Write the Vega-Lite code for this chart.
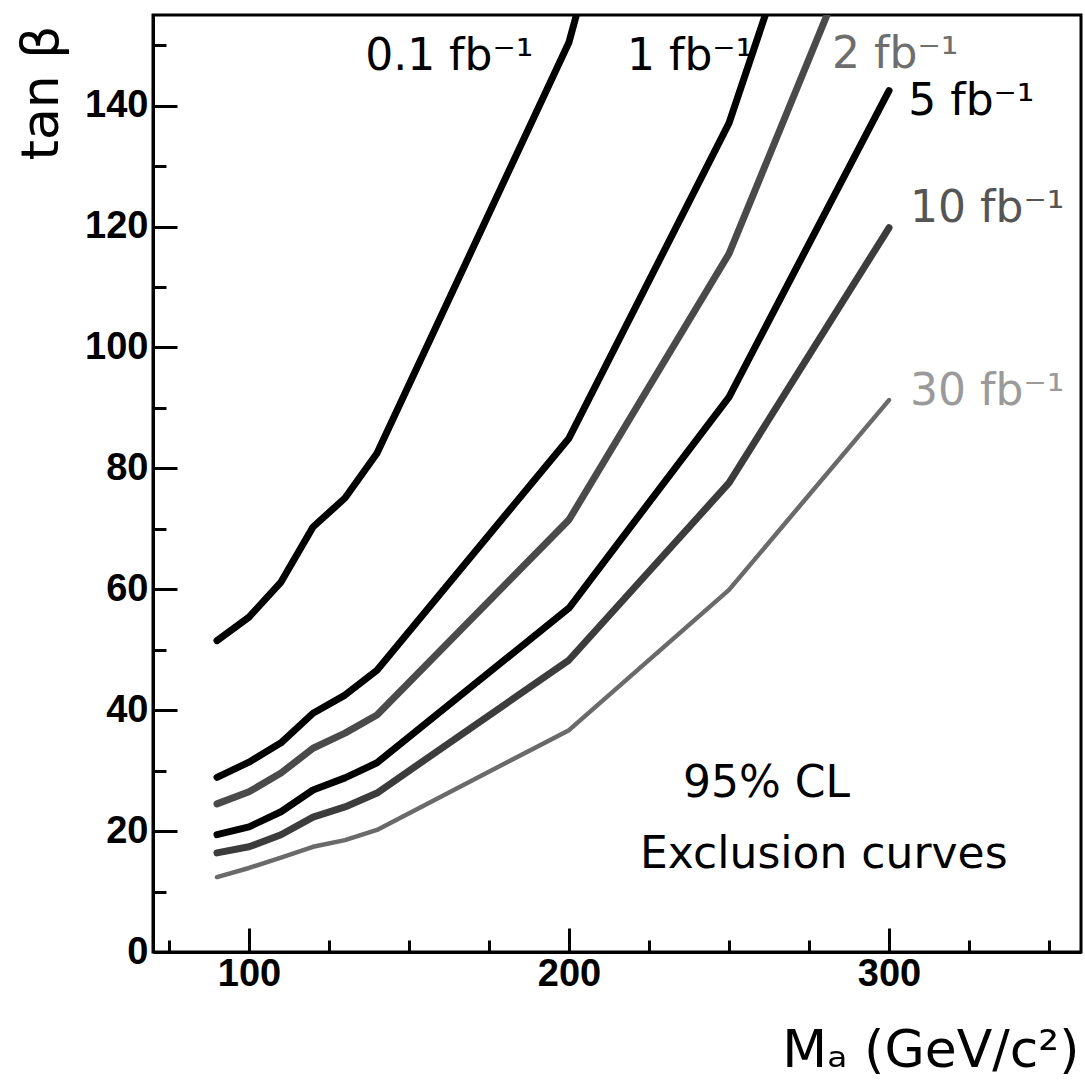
{
  "$schema": "https://vega.github.io/schema/vega-lite/v6.json",
  "autosize": {"type": "none"},
  "padding": {"left": 153, "top": 15, "right": 4, "bottom": 130},
  "width": 928,
  "height": 937,
  "background": "white",
  "config": {"view": {"stroke": "black", "strokeWidth": 3}, "font": "DejaVu Sans"},
  "datasets": {
    "curves": [
      {"series": "0.1 fb⁻¹", "M": 90, "tanb": 51.5},
      {"series": "0.1 fb⁻¹", "M": 100, "tanb": 55.4},
      {"series": "0.1 fb⁻¹", "M": 110, "tanb": 61.2},
      {"series": "0.1 fb⁻¹", "M": 120, "tanb": 70.3},
      {"series": "0.1 fb⁻¹", "M": 130, "tanb": 75.1},
      {"series": "0.1 fb⁻¹", "M": 140, "tanb": 82.5},
      {"series": "0.1 fb⁻¹", "M": 200, "tanb": 150.5},
      {"series": "0.1 fb⁻¹", "M": 250, "tanb": 248},
      {"series": "1 fb⁻¹", "M": 90, "tanb": 28.9},
      {"series": "1 fb⁻¹", "M": 100, "tanb": 31.4},
      {"series": "1 fb⁻¹", "M": 110, "tanb": 34.6},
      {"series": "1 fb⁻¹", "M": 120, "tanb": 39.5},
      {"series": "1 fb⁻¹", "M": 130, "tanb": 42.5},
      {"series": "1 fb⁻¹", "M": 140, "tanb": 46.6},
      {"series": "1 fb⁻¹", "M": 200, "tanb": 85},
      {"series": "1 fb⁻¹", "M": 250, "tanb": 137.1},
      {"series": "1 fb⁻¹", "M": 300, "tanb": 216},
      {"series": "2 fb⁻¹", "M": 90, "tanb": 24.5},
      {"series": "2 fb⁻¹", "M": 100, "tanb": 26.5},
      {"series": "2 fb⁻¹", "M": 110, "tanb": 29.6},
      {"series": "2 fb⁻¹", "M": 120, "tanb": 33.7},
      {"series": "2 fb⁻¹", "M": 130, "tanb": 36.2},
      {"series": "2 fb⁻¹", "M": 140, "tanb": 39.2},
      {"series": "2 fb⁻¹", "M": 200, "tanb": 71.5},
      {"series": "2 fb⁻¹", "M": 250, "tanb": 115.5},
      {"series": "2 fb⁻¹", "M": 300, "tanb": 180},
      {"series": "5 fb⁻¹", "M": 90, "tanb": 19.4},
      {"series": "5 fb⁻¹", "M": 100, "tanb": 20.7},
      {"series": "5 fb⁻¹", "M": 110, "tanb": 23.2},
      {"series": "5 fb⁻¹", "M": 120, "tanb": 26.8},
      {"series": "5 fb⁻¹", "M": 130, "tanb": 28.8},
      {"series": "5 fb⁻¹", "M": 140, "tanb": 31.3},
      {"series": "5 fb⁻¹", "M": 200, "tanb": 56.9},
      {"series": "5 fb⁻¹", "M": 250, "tanb": 91.8},
      {"series": "5 fb⁻¹", "M": 300, "tanb": 142.5},
      {"series": "10 fb⁻¹", "M": 90, "tanb": 16.4},
      {"series": "10 fb⁻¹", "M": 100, "tanb": 17.4},
      {"series": "10 fb⁻¹", "M": 110, "tanb": 19.4},
      {"series": "10 fb⁻¹", "M": 120, "tanb": 22.3},
      {"series": "10 fb⁻¹", "M": 130, "tanb": 24.0},
      {"series": "10 fb⁻¹", "M": 140, "tanb": 26.3},
      {"series": "10 fb⁻¹", "M": 200, "tanb": 48.3},
      {"series": "10 fb⁻¹", "M": 250, "tanb": 77.6},
      {"series": "10 fb⁻¹", "M": 300, "tanb": 119.8},
      {"series": "30 fb⁻¹", "M": 90, "tanb": 12.4},
      {"series": "30 fb⁻¹", "M": 100, "tanb": 13.9},
      {"series": "30 fb⁻¹", "M": 110, "tanb": 15.6},
      {"series": "30 fb⁻¹", "M": 120, "tanb": 17.4},
      {"series": "30 fb⁻¹", "M": 130, "tanb": 18.5},
      {"series": "30 fb⁻¹", "M": 140, "tanb": 20.2},
      {"series": "30 fb⁻¹", "M": 200, "tanb": 36.7},
      {"series": "30 fb⁻¹", "M": 250, "tanb": 59.9},
      {"series": "30 fb⁻¹", "M": 300, "tanb": 91.3}
    ],
    "labels": [
      {"series": "0.1 fb⁻¹", "M": 136.3, "tanb": 145.9},
      {"series": "1 fb⁻¹", "M": 218.1, "tanb": 145.9},
      {"series": "2 fb⁻¹", "M": 282.2, "tanb": 146.2},
      {"series": "5 fb⁻¹", "M": 306, "tanb": 138.5},
      {"series": "10 fb⁻¹", "M": 306.6, "tanb": 120.8},
      {"series": "30 fb⁻¹", "M": 306.6, "tanb": 90.5}
    ],
    "notes": [
      {"text": "95% CL", "M": 235.6, "tanb": 25.6},
      {"text": "Exclusion curves", "M": 222.2, "tanb": 13.9}
    ]
  },
  "layer": [
    {
      "data": {"name": "curves"},
      "transform": [{"filter": "datum.series !== '30 fb⁻¹'"}],
      "mark": {"type": "line", "clip": true, "strokeWidth": 7, "strokeCap": "round", "strokeJoin": "round"},
      "encoding": {
        "x": {
          "field": "M", "type": "quantitative",
          "scale": {"domain": [70, 360], "nice": false, "zero": false},
          "axis": {
            "values": [75, 100, 125, 150, 175, 200, 225, 250, 275, 300, 325, 350],
            "tickSize": {"condition": {"test": "datum.value % 100 === 0", "value": -24}, "value": -12},
            "labelExpr": "datum.value % 100 === 0 ? datum.label : ''",
            "tickWidth": 3, "tickColor": "black", "domainColor": "black", "domainWidth": 3,
            "grid": false,
            "labelFont": "Liberation Sans", "labelFontWeight": "bold", "labelFontSize": 38, "labelColor": "black",
            "labelPadding": 27, "labelFlush": false, "labelOverlap": false,
            "title": "Mₐ (GeV/c²)", "titleFont": "DejaVu Sans", "titleFontSize": 52, "titleFontWeight": "normal",
            "titleColor": "black", "titleAlign": "right", "titleBaseline": "alphabetic", "titleX": 926, "titleY": 114
          }
        },
        "y": {
          "field": "tanb", "type": "quantitative",
          "scale": {"domain": [0, 155], "nice": false},
          "axis": {
            "values": [0, 5, 10, 15, 20, 25, 30, 35, 40, 45, 50, 55, 60, 65, 70, 75, 80, 85, 90, 95, 100, 105, 110, 115, 120, 125, 130, 135, 140, 145, 150],
            "tickSize": {"condition": {"test": "datum.value % 20 === 0", "value": -24}, "value": -13},
            "labelExpr": "datum.value % 20 === 0 ? datum.label : ''",
            "tickWidth": 3, "tickColor": "black", "domainColor": "black", "domainWidth": 3,
            "grid": false,
            "labelFont": "Liberation Sans", "labelFontWeight": "bold", "labelFontSize": 38, "labelColor": "black",
            "labelPadding": 29, "labelFlush": false, "labelOverlap": false,
            "title": "tan β", "titleFont": "DejaVu Sans", "titleFontSize": 52, "titleFontWeight": "normal",
            "titleColor": "black", "titleAngle": -90, "titleAlign": "right", "titleBaseline": "alphabetic",
            "titleX": -96, "titleY": 10
          }
        },
        "color": {
          "field": "series", "type": "nominal",
          "scale": {"domain": ["0.1 fb⁻¹", "1 fb⁻¹", "2 fb⁻¹", "5 fb⁻¹", "10 fb⁻¹", "30 fb⁻¹"],
                    "range": ["#000000", "#000000", "#4a4a4a", "#000000", "#3c3c3c", "#6a6a6a"]},
          "legend": null
        }
      }
    },
    {
      "data": {"name": "curves"},
      "transform": [{"filter": "datum.series === '30 fb⁻¹'"}],
      "mark": {"type": "line", "clip": true, "strokeWidth": 4.5, "strokeCap": "round", "strokeJoin": "round"},
      "encoding": {
        "x": {"field": "M", "type": "quantitative"},
        "y": {"field": "tanb", "type": "quantitative"},
        "color": {"field": "series", "type": "nominal", "legend": null}
      }
    },
    {
      "data": {"name": "labels"},
      "mark": {"type": "text", "align": "left", "baseline": "alphabetic", "fontSize": 44, "font": "DejaVu Sans"},
      "encoding": {
        "x": {"field": "M", "type": "quantitative"},
        "y": {"field": "tanb", "type": "quantitative"},
        "text": {"field": "series"},
        "fill": {
          "field": "series", "type": "nominal",
          "scale": {"domain": ["0.1 fb⁻¹", "1 fb⁻¹", "2 fb⁻¹", "5 fb⁻¹", "10 fb⁻¹", "30 fb⁻¹"],
                    "range": ["#000000", "#000000", "#6e6e6e", "#000000", "#555555", "#9a9a9a"]},
          "legend": null
        }
      }
    },
    {
      "data": {"name": "notes"},
      "mark": {"type": "text", "align": "left", "baseline": "alphabetic", "fontSize": 44, "font": "DejaVu Sans", "color": "black"},
      "encoding": {
        "x": {"field": "M", "type": "quantitative"},
        "y": {"field": "tanb", "type": "quantitative"},
        "text": {"field": "text"}
      }
    }
  ]
}
